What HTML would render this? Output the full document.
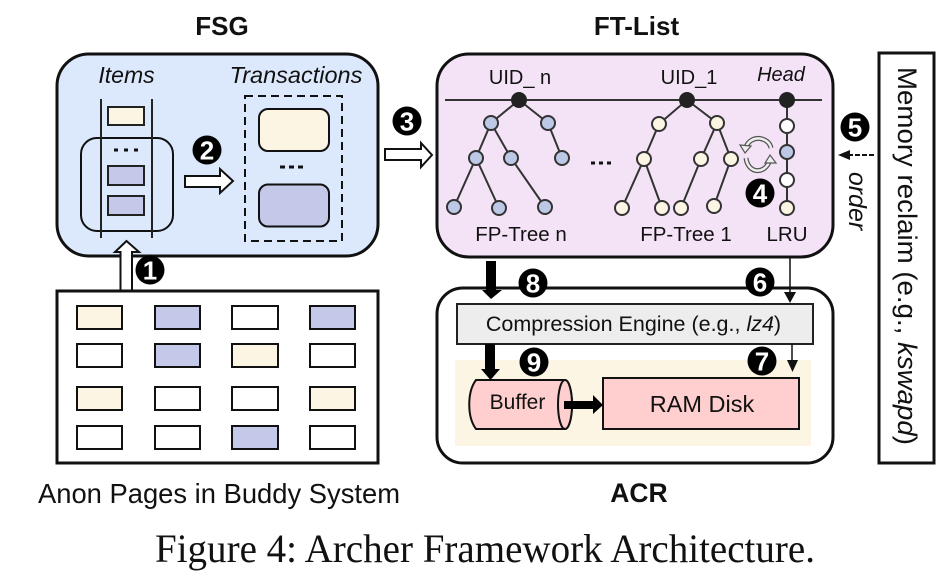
<!DOCTYPE html>
<html><head><meta charset="utf-8"><style>
html,body{margin:0;padding:0;background:#fff;width:947px;height:579px;overflow:hidden}
svg{display:block}
text{font-family:"Liberation Sans",sans-serif;fill:#111}
.n{fill:#fff;font-size:26px;font-weight:bold;text-anchor:middle}
</style></head><body>
<svg width="947" height="579" viewBox="0 0 947 579" xmlns="http://www.w3.org/2000/svg">
<!-- FSG -->
<text x="222" y="35" font-size="26" font-weight="bold" text-anchor="middle">FSG</text>
<rect x="57" y="54" width="321" height="202" rx="32" fill="#dce8fb" stroke="#111" stroke-width="3"/>
<text x="126.500" y="83" font-size="23" font-style="italic" text-anchor="middle">Items</text>
<text x="296" y="83" font-size="23.500" font-style="italic" text-anchor="middle">Transactions</text>
<rect x="81" y="138" width="92" height="93" rx="16" fill="none" stroke="#111" stroke-width="2"/>
<path d="M101 99V238M152 99V238" stroke="#222" stroke-width="2" fill="none"/>
<g stroke="#222" stroke-width="2">
<rect x="108" y="107" width="36" height="18" fill="#fdf5e3"/>
<rect x="108" y="166" width="36" height="19" fill="#c5c9e9"/>
<rect x="108" y="196" width="36" height="19" fill="#c5c9e9"/>
</g>
<path d="M114 150h4M124 150h4M134 150h4" stroke="#111" stroke-width="3"/>
<rect x="245" y="96" width="97" height="145" fill="none" stroke="#111" stroke-width="2" stroke-dasharray="8 5"/>
<rect x="259" y="109" width="70" height="42" rx="9" fill="#fdf5e3" stroke="#111" stroke-width="2"/>
<rect x="259" y="184.500" width="70" height="42" rx="9" fill="#c5c9e9" stroke="#111" stroke-width="2"/>
<path d="M280 167h5M289 167h5M298 167h5" stroke="#111" stroke-width="3"/>
<path d="M185 176H220V169L233 181L220 193V187H185Z" fill="#fff" stroke="#111" stroke-width="2"/>
<path d="M385 149H421V143L432 155L421 167V160H385Z" fill="#fff" stroke="#111" stroke-width="2"/>
<path d="M120.500 291V252H115L126.500 241L139 252H132V291Z" fill="#fff" stroke="#111" stroke-width="2"/>
<!-- Pages -->
<rect x="57" y="291" width="321" height="172" fill="#fff" stroke="#111" stroke-width="3"/>
<g stroke="#111" stroke-width="2">
<rect x="77" y="306" width="45" height="23" fill="#fdf5e3"/><rect x="155" y="306" width="45" height="23" fill="#c5c9e9"/><rect x="232" y="306" width="46" height="23" fill="#fff"/><rect x="310" y="306" width="45" height="23" fill="#c5c9e9"/>
<rect x="77" y="344" width="45" height="23" fill="#fff"/><rect x="155" y="344" width="45" height="23" fill="#c5c9e9"/><rect x="232" y="344" width="46" height="23" fill="#fdf5e3"/><rect x="310" y="344" width="45" height="23" fill="#fff"/>
<rect x="77" y="387" width="45" height="23" fill="#fdf5e3"/><rect x="155" y="387" width="45" height="23" fill="#fff"/><rect x="232" y="387" width="46" height="23" fill="#fff"/><rect x="310" y="387" width="45" height="23" fill="#fdf5e3"/>
<rect x="77" y="426" width="45" height="23" fill="#fff"/><rect x="155" y="426" width="45" height="23" fill="#fff"/><rect x="232" y="426" width="46" height="23" fill="#c5c9e9"/><rect x="310" y="426" width="45" height="23" fill="#fff"/>
</g>
<text x="219" y="503" font-size="28" text-anchor="middle" textLength="362" lengthAdjust="spacingAndGlyphs">Anon Pages in Buddy System</text>
<!-- FT-List -->
<text x="636.500" y="35" font-size="26" font-weight="bold" text-anchor="middle">FT-List</text>
<rect x="437" y="54" width="396" height="203" rx="32" fill="#f4e3f6" stroke="#111" stroke-width="3"/>
<text x="520" y="84" font-size="20" text-anchor="middle">UID_ n</text>
<text x="689" y="84" font-size="20" text-anchor="middle">UID_1</text>
<text x="781" y="81" font-size="20" font-style="italic" text-anchor="middle">Head</text>
<path d="M445 100H822" stroke="#333" stroke-width="2"/>
<g stroke="#333" stroke-width="2" fill="none">
<path d="M519 100L491 123L476 158L454 207M476 158L499 208M491 123L511 158L545 207M519 100L548 123L562 158"/>
<path d="M687 100L659 124L644 159L622 208M644 159L662 208M687 100L717 123L701 159L681 208M717 123L731 159L714 206"/>
<path d="M787 100V208"/>
</g>
<g stroke="#333" stroke-width="2" fill="#bcc8e6">
<circle cx="491" cy="123" r="7"/><circle cx="548" cy="123" r="7"/><circle cx="476" cy="158" r="7"/><circle cx="511" cy="158" r="7"/><circle cx="562" cy="158" r="7"/><circle cx="454" cy="207" r="7"/><circle cx="499" cy="208" r="7"/><circle cx="545" cy="207" r="7"/>
<circle cx="787" cy="152" r="7"/>
</g>
<g stroke="#333" stroke-width="2" fill="#fdf5e3">
<circle cx="659" cy="124" r="7"/><circle cx="717" cy="123" r="7"/><circle cx="644" cy="159" r="7"/><circle cx="701" cy="159" r="7"/><circle cx="731" cy="159" r="7"/><circle cx="622" cy="208" r="7"/><circle cx="662" cy="208" r="7"/><circle cx="681" cy="208" r="7"/><circle cx="714" cy="206" r="7"/><circle cx="787" cy="208" r="7"/>
</g>
<g stroke="#333" stroke-width="2" fill="#fff"><circle cx="787" cy="126" r="7"/><circle cx="787" cy="180" r="7"/></g>
<g fill="#222"><circle cx="519" cy="100" r="8"/><circle cx="687" cy="100" r="8"/><circle cx="787" cy="100" r="8"/></g>
<path d="M591 163h4M599 163h4M607 163h4" stroke="#111" stroke-width="3"/>
<g fill="none">
<path d="M771 148C769 137 751 134 746 147" stroke="#555" stroke-width="5"/><path d="M771 148C769 137 751 134 746 147" stroke="#eee" stroke-width="2.500"/>
<path d="M746 158C748 174 765 175 770 160" stroke="#555" stroke-width="5"/><path d="M746 158C748 174 765 175 770 160" stroke="#eee" stroke-width="2.500"/>
<path d="M740 145L751 146L745 153Z" fill="#eee" stroke="#555" stroke-width="1.200"/>
<path d="M765 163L776 163L770 155Z" fill="#eee" stroke="#555" stroke-width="1.200"/>
</g>
<text x="521" y="241" font-size="20.500" text-anchor="middle">FP-Tree n</text>
<text x="686" y="241" font-size="20.500" text-anchor="middle">FP-Tree 1</text>
<text x="787" y="241" font-size="20.500" text-anchor="middle">LRU</text>
<!-- Memory -->
<rect x="879" y="53" width="55" height="410" fill="#fff" stroke="#111" stroke-width="3"/>
<text transform="translate(898 256) rotate(90)" font-size="27" text-anchor="middle" textLength="378" lengthAdjust="spacingAndGlyphs">Memory reclaim (e.g., <tspan font-style="italic">kswapd</tspan>)</text>
<path d="M874 155H850" stroke="#111" stroke-width="2" stroke-dasharray="5 2"/>
<path d="M838 155L850 150V160Z" fill="#111"/>
<text transform="translate(849 201) rotate(90)" font-size="25" font-style="italic" text-anchor="middle">order</text>
<!-- ACR -->
<rect x="437" y="288" width="396" height="175" rx="26" fill="#fff" stroke="#111" stroke-width="3"/>
<rect x="455" y="360" width="356" height="86" fill="#fdf5e3"/>
<rect x="457" y="304" width="356" height="40" fill="#ededed" stroke="#222" stroke-width="2"/>
<text x="633.500" y="331" font-size="21.500" text-anchor="middle">Compression Engine (e.g., <tspan font-style="italic">lz4</tspan>)</text>
<rect x="603" y="378" width="196" height="51" fill="#ffcfcf" stroke="#111" stroke-width="2"/>
<text x="702" y="412" font-size="23.500" text-anchor="middle">RAM Disk</text>
<path d="M476 380H565A7 24.500 0 0 1 565 429H476C467 417 467 392 476 380Z" fill="#ffcfcf" stroke="#111" stroke-width="2"/>
<ellipse cx="565" cy="404.500" rx="7" ry="24.500" fill="#ffcfcf" stroke="#111" stroke-width="2"/>
<text x="517.500" y="409" font-size="21" text-anchor="middle">Buffer</text>
<path d="M564 401H593V395L603 405L593 414V409H564Z" fill="#000"/>
<path d="M486 261H496V290H502L491 299L482 290H486Z" fill="#000"/>
<path d="M485 344H495V369H500L490.500 380L481 369H485Z" fill="#000"/>
<path d="M790 257V294" stroke="#111" stroke-width="1.500"/>
<path d="M784 292H796L790 303Z" fill="#111"/>
<path d="M792 344V362" stroke="#111" stroke-width="1.500"/>
<path d="M787 360H798L792.500 372Z" fill="#111"/>
<text x="639" y="502" font-size="26.500" font-weight="bold" text-anchor="middle">ACR</text>
<!-- numbers -->
<g fill="#000">
<circle cx="150" cy="270" r="14.500"/><circle cx="207" cy="150" r="14.500"/><circle cx="407" cy="121" r="14.500"/><circle cx="760" cy="193" r="14.500"/><circle cx="855" cy="127" r="14.500"/><circle cx="760" cy="282" r="14.500"/><circle cx="762" cy="361" r="14.500"/><circle cx="533" cy="283" r="14.500"/><circle cx="534" cy="362" r="14.500"/>
</g>
<text class="n" x="150" y="279.500">1</text>
<text class="n" x="207" y="159.500">2</text>
<text class="n" x="407" y="130.500">3</text>
<text class="n" x="760" y="202.500">4</text>
<text class="n" x="855" y="136.500">5</text>
<text class="n" x="760" y="291.500">6</text>
<text class="n" x="762" y="370.500">7</text>
<text class="n" x="533" y="292.500">8</text>
<text class="n" x="534" y="371.500">9</text>
<!-- caption -->
<text x="485" y="562" font-size="40" text-anchor="middle" textLength="660" lengthAdjust="spacingAndGlyphs" style="font-family:'Liberation Serif',serif">Figure 4: Archer Framework Architecture.</text>
</svg>
</body></html>
